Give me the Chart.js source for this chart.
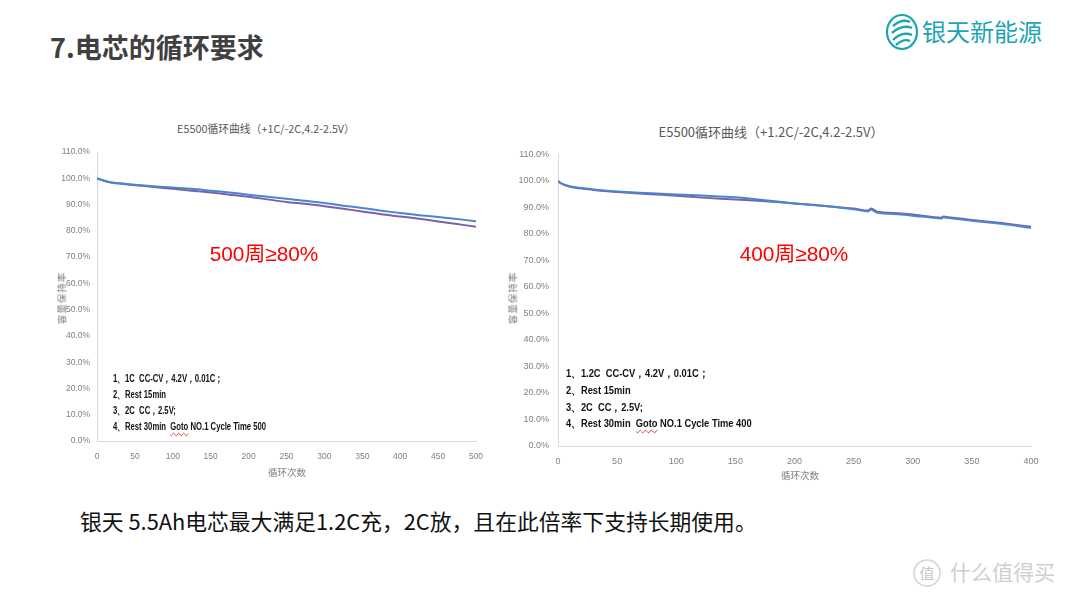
<!DOCTYPE html>
<html>
<head>
<meta charset="utf-8">
<script src="https://cdn.jsdelivr.net/npm/chart.js@4.4.1/dist/chart.umd.min.js"></script>
<style>
  html,body{margin:0;padding:0;}
  body{width:1080px;height:599px;background:#fff;position:relative;overflow:hidden;font-family:"Noto Sans CJK SC","Noto Sans",sans-serif;}
  .abs{position:absolute;white-space:nowrap;line-height:1;}
  .ctitle{color:#595959;transform:translate(-50%,-50%);}
  .ytitle{color:#7f7f7f;font-size:9.5px;transform:translate(-50%,-50%) rotate(-90deg);letter-spacing:1px;}
  .xtitle{color:#7f7f7f;font-size:9.5px;transform:translate(-50%,-50%);}
  .red{color:#ff0000;font-size:20.8px;font-family:"Liberation Sans","Noto Sans CJK SC",sans-serif;transform:translate(-50%,-50%);}
  .note{font-family:"Liberation Sans",sans-serif;font-weight:bold;color:#111;}
  .note div{position:absolute;white-space:nowrap;transform-origin:0 50%;}
  .wavy{text-decoration:underline wavy #e03030;text-decoration-thickness:1px;text-underline-offset:2px;}
  canvas{position:absolute;}
</style>
</head>
<body>
<div class="abs" style="left:50px;top:33px;font-size:27px;font-weight:bold;color:#404040;">7.电芯的循环要求</div>

<svg class="abs" style="left:884px;top:12px" width="36" height="40" viewBox="0 0 36 40">
  <ellipse cx="18" cy="20" rx="15" ry="17" fill="none" stroke="#1ba5b3" stroke-width="2.2"/>
  <path d="M9 14 Q18 6 26 10" fill="none" stroke="#1ba5b3" stroke-width="2.4"/>
  <path d="M8 21 Q18 12 28 16" fill="none" stroke="#1ba5b3" stroke-width="2.4"/>
  <path d="M9 28 Q18 19 28 23" fill="none" stroke="#1ba5b3" stroke-width="2.4"/>
  <path d="M12 33 Q20 26 26 29" fill="none" stroke="#1ba5b3" stroke-width="2.4"/>
</svg>
<div class="abs" style="left:922px;top:19px;font-size:24px;color:#1ba5b3;">银天新能源</div>

<div class="abs ctitle" style="left:266px;top:128px;font-size:10.8px;">E5500循环曲线（+1C/-2C,4.2-2.5V）</div>
<div class="abs ctitle" style="left:771px;top:131px;font-size:13px;">E5500循环曲线（+1.2C/-2C,4.2-2.5V）</div>

<canvas id="c1" width="460" height="340" style="left:40px;top:140px;"></canvas>
<canvas id="c2" width="560" height="350" style="left:500px;top:140px;"></canvas>

<div class="abs ytitle" style="left:62px;top:298px;">容量保持率</div>
<div class="abs ytitle" style="left:513px;top:298px;">容量保持率</div>
<div class="abs xtitle" style="left:287px;top:473px;">循环次数</div>
<div class="abs xtitle" style="left:800px;top:476px;">循环次数</div>

<div class="abs red" style="left:264px;top:254px;">500周≥80%</div>
<div class="abs red" style="left:794px;top:254px;">400周≥80%</div>

<div class="note" style="position:absolute;left:0;top:0;font-size:11px;">
  <div style="left:113px;top:371px;transform:scaleX(0.7);">1、1C&nbsp; CC-CV，4.2V，0.01C；</div>
  <div style="left:113px;top:387px;transform:scaleX(0.7);">2、Rest 15min</div>
  <div style="left:113px;top:403px;transform:scaleX(0.7);">3、2C&nbsp; CC，2.5V;</div>
  <div style="left:113px;top:419px;transform:scaleX(0.7);">4、Rest 30min&nbsp; <span class="wavy">Goto</span> NO.1 Cycle Time 500</div>
</div>
<div class="note" style="position:absolute;left:0;top:0;font-size:11.5px;">
  <div style="left:566px;top:366px;transform:scaleX(0.81);">1、1.2C&nbsp; CC-CV，4.2V，0.01C；</div>
  <div style="left:566px;top:383px;transform:scaleX(0.81);">2、Rest 15min</div>
  <div style="left:566px;top:400px;transform:scaleX(0.81);">3、2C&nbsp; CC，2.5V;</div>
  <div style="left:566px;top:416px;transform:scaleX(0.81);">4、Rest 30min&nbsp; <span class="wavy">Goto</span> NO.1 Cycle Time 400</div>
</div>

<div class="abs" style="left:80px;top:510px;font-size:21.8px;color:#111;">银天 5.5Ah电芯最大满足1.2C充，2C放，且在此倍率下支持长期使用。</div>

<svg class="abs" style="left:912px;top:557px" width="30" height="32" viewBox="0 0 30 32">
  <circle cx="15" cy="16" r="13" fill="none" stroke="#d4d4d4" stroke-width="1.6"/>
  <text x="15" y="22" text-anchor="middle" font-size="15" fill="#c8c8c8" font-family="Noto Sans CJK SC">值</text>
</svg>
<div class="abs" style="left:950px;top:561px;font-size:21px;color:#cfcfcf;">什么值得买</div>

<script>
// ---- Left chart data (+1C/-2C) ----
const leftCycles = [0, 5, 10, 15, 20, 30, 50, 75, 100, 125, 150, 175, 200, 225, 250, 275, 300, 325, 350, 375, 400, 425, 450, 475, 500];
const leftBlue   = [100, 99.5, 99.1, 98.7, 98.4, 98.1, 97.6, 97.0, 96.5, 96.0, 95.3, 94.6, 93.8, 93.0, 92.2, 91.5, 90.6, 89.6, 88.7, 87.7, 86.8, 86.0, 85.3, 84.5, 83.7];
const leftPurple = [100, 99.5, 99.0, 98.6, 98.3, 98.0, 97.4, 96.7, 96.0, 95.3, 94.6, 93.8, 93.0, 92.0, 91.0, 90.3, 89.4, 88.4, 87.4, 86.3, 85.5, 84.6, 83.6, 82.6, 81.6];

// ---- Right chart data (+1.2C/-2C) ----
const rightCycles = [0, 2, 5, 10, 15, 20, 30, 50, 75, 100, 125, 150, 175, 200, 225, 250, 262, 265, 270, 290, 300, 324, 326, 330, 350, 375, 400];
const rightBlue   = [100, 99.3, 98.7, 98.0, 97.6, 97.3, 96.8, 96.0, 95.4, 94.9, 94.4, 93.8, 92.7, 91.5, 90.5, 89.3, 88.5, 89.2, 88.0, 87.3, 86.9, 85.8, 86.3, 86.0, 85.0, 83.8, 82.3];
const rightPurple = [100, 99.2, 98.5, 97.8, 97.4, 97.1, 96.6, 95.8, 95.1, 94.4, 93.6, 93.0, 92.3, 91.5, 90.6, 89.6, 88.8, 89.6, 88.4, 87.7, 87.3, 86.1, 86.6, 86.3, 85.3, 84.1, 82.7];

// ---- Axis tick settings ----
const yMin = 0, yMax = 110, yStep = 10;
const leftXMax = 500, rightXMax = 400, xStep = 50;

const BLUE = '#4a86cf';
const PURPLE = '#7f5fa8';

function pts(xs, ys){ return xs.map((x,i)=>({x:x, y:ys[i]})); }

function makeChart(id, cycles, blue, purple, xMax, geo){
  const ctx = document.getElementById(id);
  return new Chart(ctx, {
    type: 'line',
    data: {
      datasets: [
        {data: pts(cycles, blue), borderColor: BLUE, borderWidth: 2, pointRadius: 0, tension: 0.25, fill:false},
        {data: pts(cycles, purple), borderColor: PURPLE, borderWidth: 2, pointRadius: 0, tension: 0.25, fill:false}
      ]
    },
    options: {
      responsive: false,
      animation: false,
      devicePixelRatio: 1,
      layout: {padding: {left: 0, right: geo.padRight, top: geo.padTop, bottom: 0}},
      plugins: {legend: {display:false}, tooltip: {enabled:false}, title:{display:false}},
      scales: {
        x: {
          type: 'linear', min: 0, max: xMax,
          grid: {display:false, drawTicks:false},
          border: {display:true, color:'#d9d9d9', width:1},
          ticks: {stepSize: xStep, color:'#808080', padding: geo.xPad,
                  font:{family:'"Liberation Sans",sans-serif', size: geo.fs}},
          afterFit: s => { s.height = geo.xH; }
        },
        y: {
          type: 'linear', min: yMin, max: yMax,
          grid: {display:false, drawTicks:false},
          border: {display:true, color:'#d9d9d9', width:1},
          ticks: {stepSize: yStep, color:'#808080', padding: geo.yPad,
                  callback: v => v.toFixed(1) + '%',
                  font:{family:'"Liberation Sans",sans-serif', size: geo.fs}},
          afterFit: s => { s.width = geo.yW; }
        }
      }
    }
  });
}

makeChart('c1', leftCycles, leftBlue, leftPurple, leftXMax,
  {padRight: 24, padTop: 12, xH: 39, yW: 57, xPad: 11, yPad: 7, fs: 8.5});
makeChart('c2', rightCycles, rightBlue, rightPurple, rightXMax,
  {padRight: 29, padTop: 14, xH: 44, yW: 58, xPad: 10, yPad: 9, fs: 9});
</script>
</body>
</html>
